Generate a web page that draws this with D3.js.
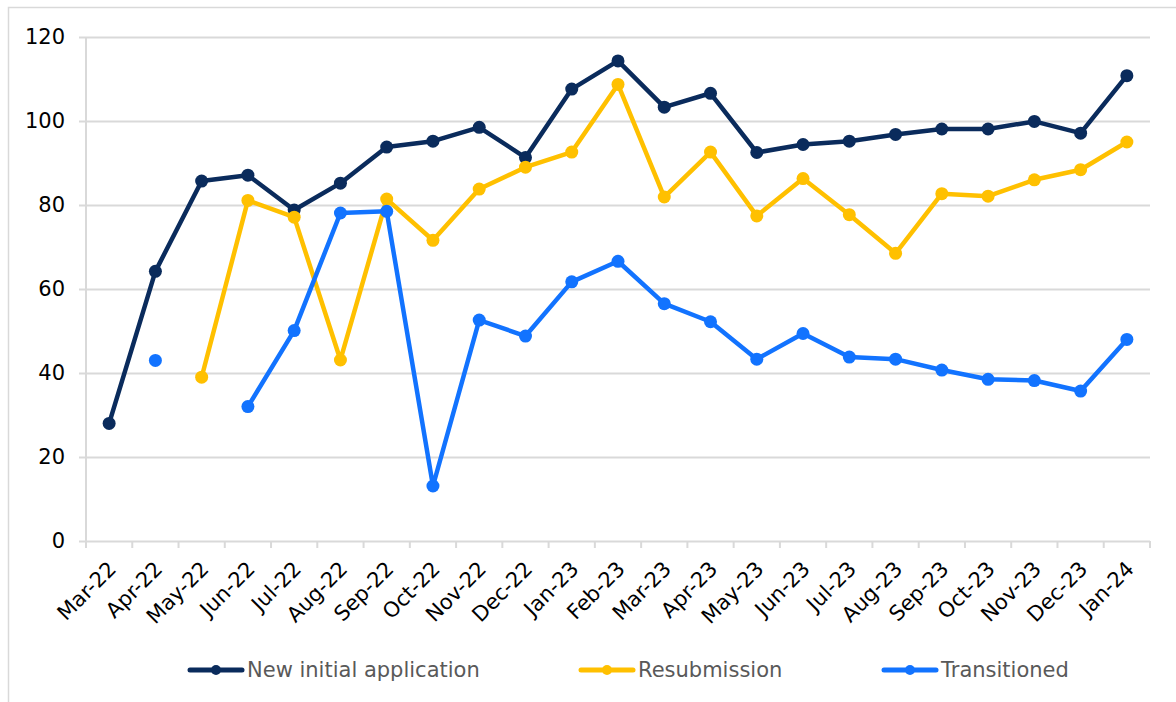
<!DOCTYPE html>
<html>
<head>
<meta charset="utf-8">
<script src="https://cdn.jsdelivr.net/npm/d3@7"></script>
<style>
  body { margin: 0; background: #fff; }
  text { font-family: "DejaVu Sans", Verdana, sans-serif; }
</style>
</head>
<body>
<div id="chart"></div>
<script>
var months = ["Mar-22", "Apr-22", "May-22", "Jun-22", "Jul-22", "Aug-22", "Sep-22", "Oct-22",
  "Nov-22", "Dec-22", "Jan-23", "Feb-23", "Mar-23", "Apr-23", "May-23", "Jun-23", "Jul-23",
  "Aug-23", "Sep-23", "Oct-23", "Nov-23", "Dec-23", "Jan-24"];

var newInitial = [28, 64.2, 85.7, 87.1, 78.8, 85.2, 93.8, 95.2, 98.5, 91.3, 107.6, 114.3,
  103.3, 106.6, 92.5, 94.4, 95.2, 96.8, 98.1, 98.1, 99.9, 97.1, 110.8];

var resubmission = [null, null, 39, 81.1, 77.1, 43.1, 81.4, 71.6, 83.8, 89, 92.6, 108.7,
  81.9, 92.6, 77.4, 86.3, 77.7, 68.5, 82.7, 82.1, 86, 88.4, 95];

var transitioned = [null, 43, null, 32, 50.1, 78.1, 78.5, 13.1, 52.6, 48.8, 61.7, 66.6,
  56.5, 52.2, 43.3, 49.4, 43.8, 43.3, 40.7, 38.5, 38.2, 35.7, 48];

var yTicks = [0, 20, 40, 60, 80, 100, 120];

var seriesNames = ["New initial application", "Resubmission", "Transitioned"];
var seriesColors = ["#0a2b5c", "#ffc000", "#1273ff"];
var seriesValues = [newInitial, resubmission, transitioned];

var width = 1176, height = 702;
var margin = {top: 37, left: 86, right: 26, bottom: 161};
var fontSize = "21px";

var svg = d3.select("#chart").append("svg")
  .attr("width", width)
  .attr("height", height);

// outer frame, only top and left edges fall inside the picture
svg.append("rect")
  .attr("x", 8.5).attr("y", 7.5)
  .attr("width", 1300).attr("height", 1000)
  .attr("fill", "none")
  .attr("stroke", "#d9d9d9")
  .attr("stroke-width", 1.5);

var x = d3.scaleBand()
  .domain(months)
  .range([margin.left, width - margin.right]);

var y = d3.scaleLinear()
  .domain([0, 120])
  .range([height - margin.bottom, margin.top]);

// y gridlines + labels
var yAxis = d3.axisLeft(y)
  .tickValues(yTicks)
  .tickSize(-(width - margin.right - margin.left + 7))
  .tickPadding(14);

var yG = svg.append("g")
  .attr("transform", "translate(" + (margin.left - 7) + ",0)")
  .call(yAxis);
yG.select(".domain").remove();
yG.selectAll(".tick line")
  .attr("stroke", "#d9d9d9")
  .attr("stroke-width", 2);
yG.selectAll(".tick text")
  .attr("fill", "#000")
  .style("font-size", fontSize);

// vertical axis line
svg.append("line")
  .attr("x1", margin.left).attr("x2", margin.left)
  .attr("y1", y(120)).attr("y2", y(0) + 7)
  .attr("stroke", "#d9d9d9")
  .attr("stroke-width", 2);

// x tick marks at category boundaries
var boundaries = months.map(function (m) { return x(m); }).concat([x.range()[1]]);
svg.selectAll("line.xtick")
  .data(boundaries)
  .enter().append("line")
  .attr("class", "xtick")
  .attr("x1", function (d) { return d; })
  .attr("x2", function (d) { return d; })
  .attr("y1", y(0))
  .attr("y2", y(0) + 7)
  .attr("stroke", "#d9d9d9")
  .attr("stroke-width", 2);

svg.selectAll("text.xlabel")
  .data(months)
  .enter().append("text")
  .attr("class", "xlabel")
  .attr("text-anchor", "end")
  .attr("transform", function (d) {
    return "translate(" + (x(d) + x.bandwidth() / 2 + 3) + "," + (y(0) + 24) + ") rotate(-45)";
  })
  .attr("dy", "0.35em")
  .attr("fill", "#000")
  .style("font-size", fontSize)
  .text(function (d) { return d; });

var line = d3.line()
  .defined(function (d) { return d != null; })
  .x(function (d, i) { return x(months[i]) + x.bandwidth() / 2; })
  .y(function (d) { return y(d); });

seriesValues.forEach(function (vals, s) {
  var g = svg.append("g").attr("class", "series");
  g.append("path")
    .datum(vals)
    .attr("d", line)
    .attr("fill", "none")
    .attr("stroke", seriesColors[s])
    .attr("stroke-width", 4.5)
    .attr("stroke-linejoin", "round");
  g.selectAll("circle")
    .data(vals.map(function (v, i) { return {v: v, i: i}; })
      .filter(function (d) { return d.v != null; }))
    .enter().append("circle")
    .attr("cx", function (d) { return x(months[d.i]) + x.bandwidth() / 2; })
    .attr("cy", function (d) { return y(d.v); })
    .attr("r", 6.5)
    .attr("fill", seriesColors[s]);
});

// legend
var legendX = [190, 581, 884];
var legendY = 670;
var legend = svg.selectAll("g.legend")
  .data(seriesNames)
  .enter().append("g")
  .attr("class", "legend")
  .attr("transform", function (d, i) { return "translate(" + legendX[i] + "," + legendY + ")"; });

legend.append("line")
  .attr("x1", 0).attr("x2", 52)
  .attr("stroke", function (d, i) { return seriesColors[i]; })
  .attr("stroke-width", 5)
  .attr("stroke-linecap", "round");
legend.append("circle")
  .attr("cx", 26)
  .attr("r", 5)
  .attr("fill", function (d, i) { return seriesColors[i]; });
legend.append("text")
  .attr("x", 57)
  .attr("dy", "0.35em")
  .attr("fill", "#595959")
  .style("font-size", fontSize)
  .text(function (d) { return d; });
</script>
</body>
</html>
